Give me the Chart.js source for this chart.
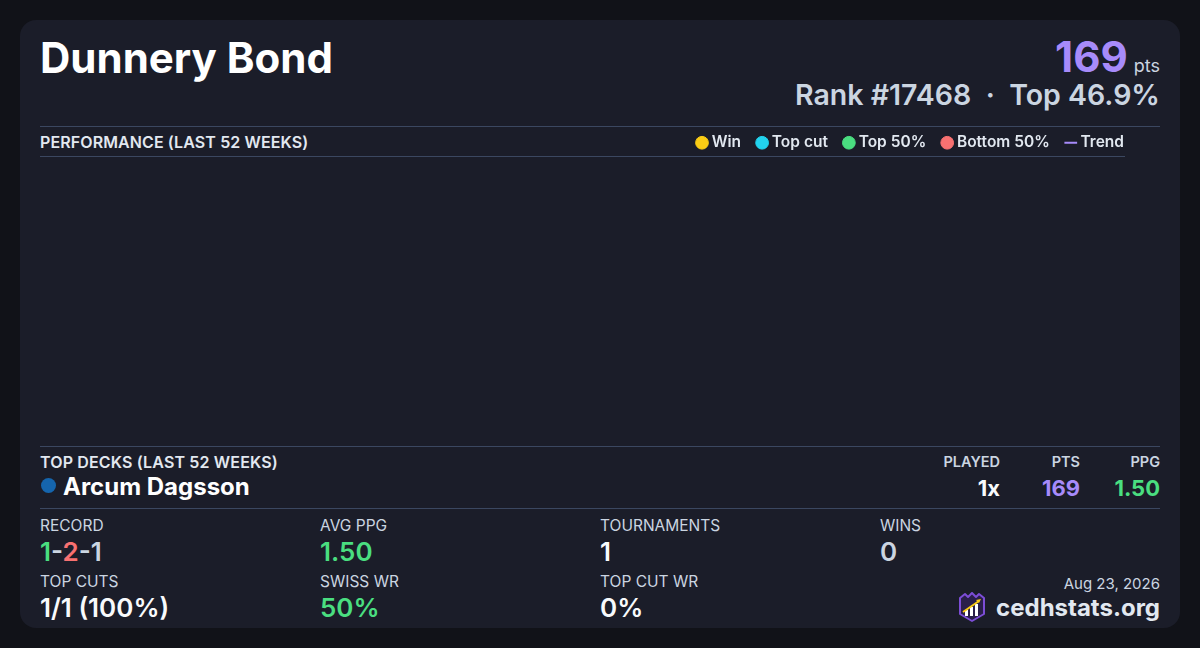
<!DOCTYPE html>
<html>
<head>
<meta charset="utf-8">
<script src="https://cdn.jsdelivr.net/npm/chart.js@4.4.1/dist/chart.umd.min.js"></script>
<style>
  html, body { margin: 0; padding: 0; }
  body {
    width: 1200px; height: 648px; background: #111218; overflow: hidden;
    font-family: Inter, "Noto Sans", sans-serif; position: relative;
  }
  .card {
    position: absolute; left: 20px; top: 20px; width: 1160px; height: 608px;
    background: #1b1d29; border-radius: 16px;
  }
  .t { position: absolute; white-space: nowrap; line-height: 1; }
  .r { text-align: right; }
  .rule { position: absolute; height: 1px; background: #3b4760; }
  .lbl { font-size: 15.5px; color: #cbd5e1; font-weight: 400; }
  .val { font-size: 26px; font-weight: 600; color: #f8fafc; }
  .green { color: #4ade80; }
  .red { color: #f87171; }
  .grey { color: #cbd5e1; }
  .purple { color: #a78bfa; }
  #chartBox { position: absolute; left: 40px; top: 116px; width: 1103px; height: 330px; }
</style>
</head>
<body>
<div class="card"></div>

<div class="t" style="left:40px;top:37px;font-size:42px;font-weight:700;color:#ffffff;">Dunnery Bond</div>
<div class="t r" style="right:40px;top:36px;">
  <span class="purple" style="font-size:42px;font-weight:700;">169</span><span class="grey" style="font-size:18px;margin-left:6px;">pts</span>
</div>
<div class="t r grey" style="right:40px;top:81px;font-size:28.5px;font-weight:600;">Rank #17468 &nbsp;·&nbsp; Top 46.9%</div>

<div class="rule" style="left:40px;top:126px;width:1120px;"></div>
<div class="t" style="left:40px;top:134px;font-size:16px;font-weight:600;color:#e2e8f0;letter-spacing:0.1px;">PERFORMANCE (LAST 52 WEEKS)</div>
<div class="rule" style="left:40px;top:156px;width:1085px;"></div>

<div id="chartBox"><canvas id="perfChart"></canvas></div>

<div class="rule" style="left:40px;top:446px;width:1120px;"></div>
<div class="t" style="left:40px;top:454px;font-size:16px;font-weight:600;color:#e2e8f0;letter-spacing:0.15px;">TOP DECKS (LAST 52 WEEKS)</div>
<div style="position:absolute;left:41px;top:478px;width:15px;height:15px;border-radius:50%;background:#1565ad;"></div>
<div class="t" style="left:63px;top:475px;font-size:24px;font-weight:700;color:#ffffff;">Arcum Dagsson</div>

<div class="t r" style="right:200px;top:455px;font-size:14.5px;font-weight:600;color:#cbd5e1;">PLAYED</div>
<div class="t r" style="right:120px;top:455px;font-size:14.5px;font-weight:600;color:#cbd5e1;">PTS</div>
<div class="t r" style="right:40px;top:455px;font-size:14.5px;font-weight:600;color:#cbd5e1;">PPG</div>
<div class="t r" style="right:200px;top:477px;font-size:22px;font-weight:700;color:#f8fafc;">1x</div>
<div class="t r purple" style="right:120px;top:477px;font-size:22px;font-weight:700;">169</div>
<div class="t r green" style="right:40px;top:477px;font-size:22px;font-weight:700;">1.50</div>

<div class="rule" style="left:40px;top:508px;width:1120px;"></div>

<div class="t lbl" style="left:40px;top:518px;">RECORD</div>
<div class="t val" style="left:40px;top:539px;"><span class="green">1</span><span class="grey">-</span><span class="red">2</span><span class="grey">-1</span></div>
<div class="t lbl" style="left:320px;top:518px;">AVG PPG</div>
<div class="t val green" style="left:320px;top:539px;">1.50</div>
<div class="t lbl" style="left:600px;top:518px;">TOURNAMENTS</div>
<div class="t val" style="left:600px;top:539px;">1</div>
<div class="t lbl" style="left:880px;top:518px;">WINS</div>
<div class="t val grey" style="left:880px;top:539px;">0</div>

<div class="t lbl" style="left:40px;top:574px;">TOP CUTS</div>
<div class="t val" style="left:40px;top:595px;">1/1 (100%)</div>
<div class="t lbl" style="left:320px;top:574px;">SWISS WR</div>
<div class="t val green" style="left:320px;top:595px;">50%</div>
<div class="t lbl" style="left:600px;top:574px;">TOP CUT WR</div>
<div class="t val" style="left:600px;top:595px;">0%</div>

<div class="t r lbl" style="right:40px;top:576px;font-size:15px;">Aug 23, 2026</div>
<svg style="position:absolute;left:957px;top:592px;" width="30" height="31" viewBox="0 0 30 31">
  <path d="M3 6 L8 2 L11 5 L15 1 L19 5 L22 2 L27 6 L27 22 L15 29 L3 22 Z" fill="#2a1f4a" stroke="#7c4dd6" stroke-width="2" stroke-linejoin="round"/>
  <rect x="8" y="18" width="3" height="6" fill="#ffffff"/>
  <rect x="13" y="15" width="3" height="9" fill="#ffffff"/>
  <rect x="18" y="12" width="3" height="12" fill="#ffffff"/>
  <path d="M6 20 L22 9" stroke="#facc15" stroke-width="2"/>
  <path d="M24 7 L19 8 L22 11 Z" fill="#facc15"/>
</svg>
<div class="t r" style="right:40px;top:596px;font-size:24px;font-weight:700;color:#e2e8f0;">cedhstats.org</div>

<script>
// week-by-week results, last 52 weeks (none recorded in this window)
const winPoints = [];
const topCutPoints = [];
const top50Points = [];
const bottom50Points = [];
const trendPoints = [];

const seriesNames = ["Win", "Top cut", "Top 50%", "Bottom 50%", "Trend"];
const seriesColors = ["#facc15", "#22d3ee", "#4ade80", "#f87171", "#a78bfa"];

const ctx = document.getElementById("perfChart");

new Chart(ctx, {
  type: "scatter",
  data: {
    datasets: [
      { label: seriesNames[0], data: winPoints, backgroundColor: seriesColors[0], borderColor: seriesColors[0], pointStyle: "circle" },
      { label: seriesNames[1], data: topCutPoints, backgroundColor: seriesColors[1], borderColor: seriesColors[1], pointStyle: "circle" },
      { label: seriesNames[2], data: top50Points, backgroundColor: seriesColors[2], borderColor: seriesColors[2], pointStyle: "circle" },
      { label: seriesNames[3], data: bottom50Points, backgroundColor: seriesColors[3], borderColor: seriesColors[3], pointStyle: "circle" },
      {
        label: seriesNames[4], type: "line", data: trendPoints,
        borderColor: seriesColors[4], backgroundColor: seriesColors[4],
        borderWidth: 2, pointStyle: "line", pointRadius: 0,
      },
    ],
  },
  options: {
    responsive: true,
    maintainAspectRatio: false,
    animation: false,
    plugins: {
      legend: {
        position: "top",
        align: "end",
        labels: {
          usePointStyle: true,
          boxHeight: 9,
          boxWidth: 4,
          padding: 19,
          color: "#e2e8f0",
          font: { family: "Inter", size: 15.5, weight: "600" },
        },
      },
      tooltip: { enabled: false },
    },
    scales: {
      x: { display: false, min: 0, max: 52 },
      y: { display: false, min: 0, max: 1 },
    },
  },
});
</script>
</body>
</html>
